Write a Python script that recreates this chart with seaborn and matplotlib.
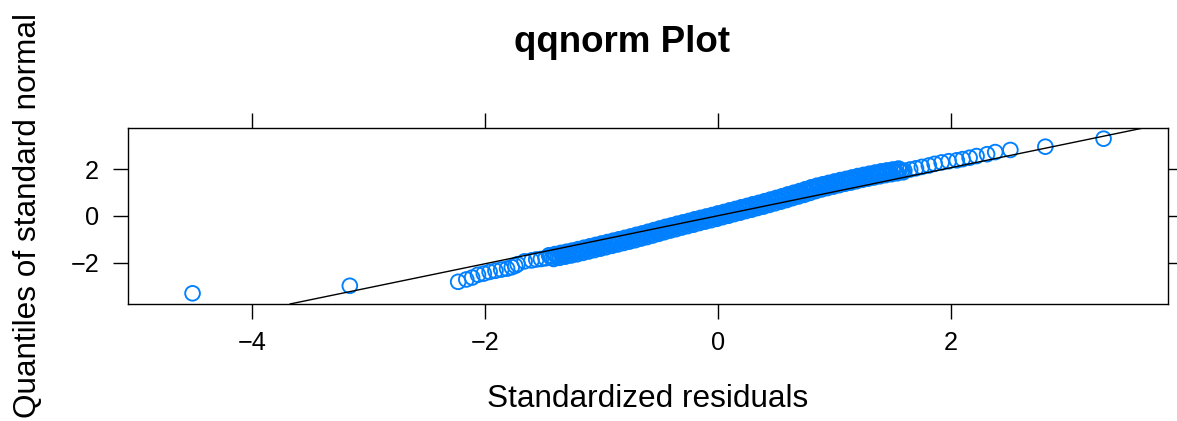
import matplotlib
matplotlib.use("Agg")
import matplotlib.pyplot as plt
import seaborn as sns
import pandas as pd

# Standardized residuals (x) paired with standard-normal quantiles (y)
lower_resid = [-4.51, -3.16, -2.23, -2.16, -2.11, -2.06, -2.01, -1.96, -1.91,
               -1.86, -1.81, -1.77, -1.74, -1.72, -1.66, -1.60, -1.56, -1.52, -1.48]
lower_quant = [-3.29, -2.97, -2.80, -2.70, -2.62, -2.50, -2.45, -2.38, -2.33,
               -2.28, -2.24, -2.18, -2.12, -2.05, -1.93, -1.89, -1.85, -1.83, -1.80]

# Dense central body of the residuals
body_resid_a = [-1.45, -1.40, -1.35, -1.30, -1.25, -1.20, -1.15, -1.10, -1.05, -1.00,
                -0.95, -0.90, -0.85, -0.80, -0.75, -0.70, -0.65, -0.60, -0.55, -0.50,
                -0.45, -0.40, -0.35, -0.30, -0.25, -0.20, -0.15, -0.10, -0.05, 0.00,
                0.05, 0.10, 0.15, 0.20, 0.25, 0.30, 0.35, 0.40, 0.45, 0.50,
                0.55, 0.60, 0.65, 0.70, 0.75, 0.80, 0.85, 0.90, 0.95, 1.00,
                1.05, 1.10, 1.15, 1.20, 1.25, 1.30, 1.35, 1.40, 1.45, 1.50, 1.55]
body_quant_a = [-1.67, -1.62, -1.57, -1.52, -1.47, -1.41, -1.35, -1.29, -1.23, -1.17,
                -1.11, -1.05, -0.99, -0.93, -0.87, -0.80, -0.74, -0.67, -0.60, -0.53,
                -0.46, -0.40, -0.33, -0.27, -0.21, -0.14, -0.08, -0.02, 0.04, 0.11,
                0.17, 0.24, 0.30, 0.37, 0.43, 0.50, 0.56, 0.63, 0.70, 0.77,
                0.84, 0.92, 0.99, 1.06, 1.14, 1.22, 1.29, 1.35, 1.41, 1.47,
                1.53, 1.58, 1.64, 1.70, 1.75, 1.80, 1.85, 1.90, 1.94, 1.98, 2.02]

body_resid_b = [-1.44, -1.39, -1.34, -1.29, -1.24, -1.19, -1.14, -1.09, -1.04, -0.99,
                -0.94, -0.89, -0.84, -0.79, -0.74, -0.69, -0.64, -0.59, -0.54, -0.49,
                -0.44, -0.39, -0.34, -0.29, -0.24, -0.19, -0.14, -0.09, -0.04, 0.01,
                0.06, 0.11, 0.16, 0.21, 0.26, 0.31, 0.36, 0.41, 0.46, 0.51,
                0.56, 0.61, 0.66, 0.71, 0.76, 0.81, 0.86, 0.91, 0.96, 1.01,
                1.06, 1.11, 1.16, 1.21, 1.26, 1.31, 1.36, 1.41, 1.46, 1.51, 1.56]
body_quant_b = [-1.72, -1.67, -1.62, -1.57, -1.52, -1.46, -1.40, -1.34, -1.28, -1.22,
                -1.16, -1.10, -1.04, -0.98, -0.92, -0.85, -0.79, -0.72, -0.65, -0.58,
                -0.51, -0.45, -0.38, -0.32, -0.26, -0.19, -0.13, -0.07, -0.01, 0.06,
                0.12, 0.19, 0.25, 0.32, 0.38, 0.45, 0.51, 0.58, 0.65, 0.72,
                0.79, 0.87, 0.94, 1.01, 1.09, 1.17, 1.24, 1.30, 1.36, 1.42,
                1.48, 1.53, 1.59, 1.65, 1.70, 1.75, 1.80, 1.85, 1.89, 1.93, 1.97]

body_resid_c = [-1.425, -1.375, -1.325, -1.275, -1.225, -1.175, -1.125, -1.075, -1.025, -0.975,
                -0.925, -0.875, -0.825, -0.775, -0.725, -0.675, -0.625, -0.575, -0.525, -0.475,
                -0.425, -0.375, -0.325, -0.275, -0.225, -0.175, -0.125, -0.075, -0.025, 0.025,
                0.075, 0.125, 0.175, 0.225, 0.275, 0.325, 0.375, 0.425, 0.475, 0.525,
                0.575, 0.625, 0.675, 0.725, 0.775, 0.825, 0.875, 0.925, 0.975, 1.025,
                1.075, 1.125, 1.175, 1.225, 1.275, 1.325, 1.375, 1.425, 1.475, 1.525, 1.575]
body_quant_c = [-1.78, -1.73, -1.68, -1.63, -1.58, -1.52, -1.46, -1.40, -1.34, -1.28,
                -1.22, -1.16, -1.10, -1.04, -0.98, -0.91, -0.85, -0.78, -0.71, -0.64,
                -0.57, -0.51, -0.44, -0.38, -0.32, -0.25, -0.19, -0.13, -0.07, 0.00,
                0.06, 0.13, 0.19, 0.26, 0.32, 0.39, 0.45, 0.52, 0.59, 0.66,
                0.73, 0.81, 0.88, 0.95, 1.03, 1.11, 1.18, 1.24, 1.30, 1.36,
                1.42, 1.47, 1.53, 1.59, 1.64, 1.69, 1.74, 1.79, 1.83, 1.87, 1.91]

body_resid_d = [-1.41, -1.36, -1.31, -1.26, -1.21, -1.16, -1.11, -1.06, -1.01, -0.96,
                -0.91, -0.86, -0.81, -0.76, -0.71, -0.66, -0.61, -0.56, -0.51, -0.46,
                -0.41, -0.36, -0.31, -0.26, -0.21, -0.16, -0.11, -0.06, -0.01, 0.04,
                0.09, 0.14, 0.19, 0.24, 0.29, 0.34, 0.39, 0.44, 0.49, 0.54,
                0.59, 0.64, 0.69, 0.74, 0.79, 0.84, 0.89, 0.94, 0.99, 1.04,
                1.09, 1.14, 1.19, 1.24, 1.29, 1.34, 1.39, 1.44, 1.49, 1.54, 1.59]
body_quant_d = [-1.83, -1.78, -1.73, -1.68, -1.63, -1.57, -1.51, -1.45, -1.39, -1.33,
                -1.27, -1.21, -1.15, -1.09, -1.03, -0.96, -0.90, -0.83, -0.76, -0.69,
                -0.62, -0.56, -0.49, -0.43, -0.37, -0.30, -0.24, -0.18, -0.12, -0.05,
                0.01, 0.08, 0.14, 0.21, 0.27, 0.34, 0.40, 0.47, 0.54, 0.61,
                0.68, 0.76, 0.83, 0.90, 0.98, 1.06, 1.13, 1.19, 1.25, 1.31,
                1.37, 1.42, 1.48, 1.54, 1.59, 1.64, 1.69, 1.74, 1.78, 1.82, 1.86]

upper_resid = [1.60, 1.65, 1.70, 1.75, 1.81, 1.86, 1.92, 1.98, 2.05, 2.10,
               2.16, 2.22, 2.31, 2.38, 2.51, 2.81, 3.31]
upper_quant = [1.93, 1.98, 2.03, 2.09, 2.15, 2.22, 2.28, 2.33, 2.37, 2.42,
               2.48, 2.55, 2.63, 2.72, 2.81, 2.95, 3.29]

# Reference line (qqline) intercept and slope
line_intercept = 0.012
line_slope = 1.0225

x_ticks = [-4, -2, 0, 2]
y_ticks = [-2, 0, 2]

df = pd.DataFrame({
    "resid": (lower_resid + body_resid_a + body_resid_b + body_resid_c
              + body_resid_d + upper_resid),
    "quant": (lower_quant + body_quant_a + body_quant_b + body_quant_c
              + body_quant_d + upper_quant),
})

sns.set_style("white")
plt.rcParams["font.family"] = ["Liberation Sans", "DejaVu Sans"]
plt.rcParams["text.color"] = "black"

fig = plt.figure(figsize=(11.77, 4.21), dpi=100)
ax = fig.add_axes([128 / 1177, 1 - 304 / 421, 1040 / 1177, 176 / 421])

sns.scatterplot(data=df, x="resid", y="quant", ax=ax, marker="o", s=112,
                linewidth=1.35, legend=False)
pts = ax.collections[0]
pts.set_facecolor("none")
pts.set_edgecolor("#0080ff")
pts.set_clip_on(True)

ax.axline((0, line_intercept), slope=line_slope, color="black", lw=1.0)

ax.set_xlim(-5.064, 3.863)
ax.set_ylim(-3.745, 3.745)
ax.set_xticks(x_ticks)
ax.set_yticks(y_ticks)
ax.set_xlabel("")
ax.set_ylabel("")

for sp in ax.spines.values():
    sp.set_visible(True)
    sp.set_color("black")
    sp.set_linewidth(1.0)

ax.tick_params(axis="both", which="major", direction="out", length=10.8, width=1.0,
               color="black", labelsize=18.2, labelcolor="black",
               top=True, right=True, bottom=True, left=True,
               labeltop=False, labelright=False)
ax.tick_params(axis="x", pad=9)
ax.tick_params(axis="y", pad=10)

fig.text(621.5 / 1177, 1 - 52 / 421, "qqnorm Plot", fontsize=26.5, color="black",
         fontweight="bold", ha="center", va="baseline")
fig.text(648 / 1177, 1 - 407 / 421, "Standardized residuals", fontsize=22.7,
         color="black", ha="center", va="baseline")
fig.text(36 / 1177, 1 - 216 / 421, "Quantiles of standard normal", fontsize=22.7,
         color="black", rotation=90, rotation_mode="anchor", ha="center", va="baseline")

fig.savefig("out.png", dpi=100, facecolor="white")
